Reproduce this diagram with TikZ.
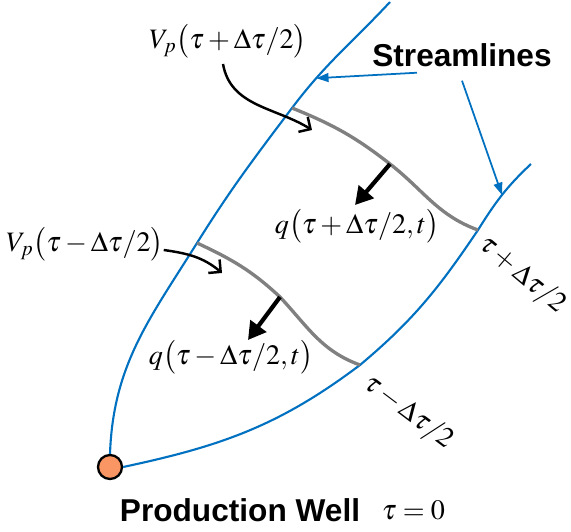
\documentclass[tikz,border=0pt]{standalone}
\usepackage{mathptmx}
\usepackage{fontspec}
\setsansfont{Liberation Sans}
\usetikzlibrary{positioning}
\usetikzlibrary{calc}
\usetikzlibrary{arrows.meta}

\definecolor{streamblue}{RGB}{0,112,192}
\definecolor{wellorange}{RGB}{250,150,100}
\definecolor{frontgray}{RGB}{128,128,128}

\begin{document}
\begin{tikzpicture}[x=0.02cm, y=0.02cm,
    stream/.style={streamblue, line width=1.2pt},
    front/.style={frontgray, line width=1.9pt},
    flux/.style={-{Triangle[length=10pt, width=11pt]}, line width=2.4pt},
    pointer/.style={-{Straight Barb[length=5pt, width=10pt]}, line width=1.4pt},
    callout/.style={streamblue, line width=1pt, -{Triangle[length=7pt, width=5pt]}},
    eq/.style={font=\fontsize{16}{19}\selectfont, inner sep=1pt},
    title/.style={font=\sffamily\bfseries\fontsize{18}{21}\selectfont, inner sep=1pt},
    well/.style={circle, draw=black, line width=1.3pt, fill=wellorange, minimum size=0.48cm, inner sep=0pt}]

    \useasboundingbox (0,0) rectangle (571,531);

    \node[well] (w) at (110,64) {};

    % streamline ends
    \coordinate (lowL) at (197,288);
    \coordinate (upL) at (292,423);
    \coordinate (topL) at (390,529);
    \coordinate (lowR) at (360,166);
    \coordinate (upR) at (478,301);
    \coordinate (topR) at (531,367);

    \draw[stream] (w.north) to[out=88, in=238] (lowL) to[out=58, in=233] (upL)
        to[out=53, in=227] coordinate[pos=0.25] (hitL) (topL);
    \draw[stream] (w.east) to[out=12, in=217] (lowR) to[out=40, in=236] (upR)
        to[out=58, in=223] coordinate[pos=0.5] (hitR) (topR);

    % fronts
    \coordinate (upM) at (390,367);
    \coordinate (lowM) at (280,234);
    \draw[front] (upL) to[out=-22, in=142] (upM) to[out=-38, in=160] (upR);
    \draw[front] (lowL) to[out=-25, in=137] (lowM) to[out=-47, in=160] (lowR);

    \coordinate (upQ) at (355,326);
    \coordinate (lowQ) at (248,191);
    \draw[flux] (upM) -- (upQ);
    \draw[flux] (lowM) -- (lowQ);

    % labels
    \node[eq] (vpup) at (228,490) {$V_p\bigl(\tau+\Delta\tau/2\bigr)$};
    \node[eq] (vplow) at (85,287) {$V_p\bigl(\tau-\Delta\tau/2\bigr)$};
    \node[eq] (qup) at (357,305) {$q\bigl(\tau+\Delta\tau/2,t\bigr)$};
    \node[eq] (qlow) at (231,174) {$q\bigl(\tau-\Delta\tau/2,t\bigr)$};
    \node[eq, rotate=-40] (tplus) at (522,256) {$\tau+\Delta\tau/2$};
    \node[eq, rotate=-37] (tminus) at (408,119) {$\tau-\Delta\tau/2$};
    \node[title] (sl) at (462,476) {Streamlines};
    \node[title] (pw) at (240,21) {Production Well};
    \node[eq, right=10pt of pw] (tau0) {$\tau=0$};

    \coordinate (vpupTip) at (312,401);
    \coordinate (vplowTip) at (222,258);
    \draw[pointer] ($(vpup.south)+(-5,-4)$) to[out=-80, in=148] (vpupTip);
    \draw[pointer] ($(vplow.east)+(-2,-6)$) to[out=-8, in=140] (vplowTip);

    \draw[callout] ($(sl.south)+(-45,-4)$) -- (hitL);
    \draw[callout] ($(sl.south)+(0,-12)$) -- (hitR);

\end{tikzpicture}
\end{document}
